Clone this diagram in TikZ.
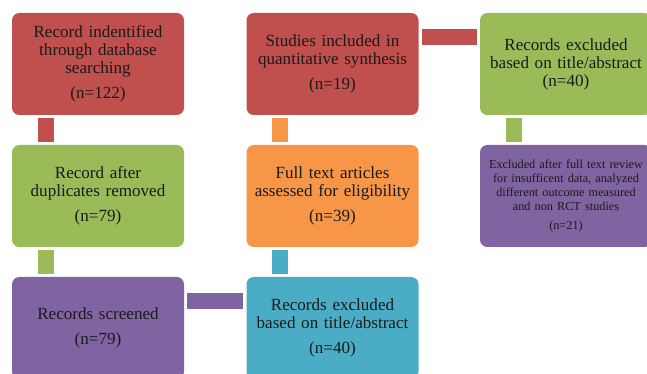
\documentclass[tikz,border=0pt]{standalone}
\usepackage{fontspec}
\setmainfont{Liberation Serif}
\definecolor{cred}{HTML}{C0504D}
\definecolor{cgreen}{HTML}{9BBB59}
\definecolor{corange}{HTML}{F79646}
\definecolor{cpurple}{HTML}{8064A2}
\definecolor{cblue}{HTML}{4BACC6}
\definecolor{ctext}{HTML}{1A1A1A}
\begin{document}
\begin{tikzpicture}[x=0.75pt,y=-0.75pt,
  box/.style={rectangle, rounded corners=5.5pt, minimum width=129pt, minimum height=76.5pt,
    text width=127pt, align=center, inner sep=0pt, text=ctext,
    font=\fontsize{12.8}{13.5}\selectfont},
  smallbox/.style={box, font=\fontsize{9.2}{10.3}\selectfont},
  link/.style={line width=12pt, shorten >=2.25pt, shorten <=2.25pt}]
\useasboundingbox (0,0) rectangle (647,374);
\clip (0,0) rectangle (647,374);
\fill[white] (0,0) rectangle (647,374);

\node[box, fill=cred]    (b1) at (98,64)    {Record indentified\\through database\\searching\\[5.25pt](n=122)};
\node[box, fill=cred]    (b2) at (332.5,64) {Studies included in\\quantitative synthesis\\[5.25pt](n=19)};
\node[box, fill=cgreen]  (b3) at (566,64)   {Records excluded\\based on title/abstract\\(n=40)};
\node[box, fill=cgreen]  (b4) at (98,196)   {Record after\\duplicates removed\\[5.25pt](n=79)};
\node[box, fill=corange] (b5) at (332.5,196) {Full text articles\\assessed for eligibility\\[5.25pt](n=39)};
\node[smallbox, fill=cpurple] (b6) at (566,196) {Excluded after full text review\\for insufficent data, analyzed\\different outcome measured\\and non RCT studies\\[4pt](n=21)};
\node[box, fill=cpurple] (b7) at (98,328)   {Records screened\\[5.25pt](n=79)};
\node[box, fill=cblue]   (b8) at (332.5,328) {Records excluded\\based on title/abstract\\[5.25pt](n=40)};

\draw[link, cred]    ([xshift=25.5pt]b1.south west) -- ([xshift=25.5pt]b4.north west);
\draw[link, cgreen]  ([xshift=25.5pt]b4.south west) -- ([xshift=25.5pt]b7.north west);
\draw[link, cpurple] ([yshift=-18pt]b7.north east) -- ([yshift=-18pt]b8.north west);
\draw[link, cblue]   ([xshift=25.5pt]b8.north west) -- ([xshift=25.5pt]b5.south west);
\draw[link, corange] ([xshift=25.5pt]b5.north west) -- ([xshift=25.5pt]b2.south west);
\draw[link, cred]    ([yshift=-18pt]b2.north east) -- ([yshift=-18pt]b3.north west);
\draw[link, cgreen]  ([xshift=25.5pt]b3.south west) -- ([xshift=25.5pt]b6.north west);
\end{tikzpicture}
\end{document}
